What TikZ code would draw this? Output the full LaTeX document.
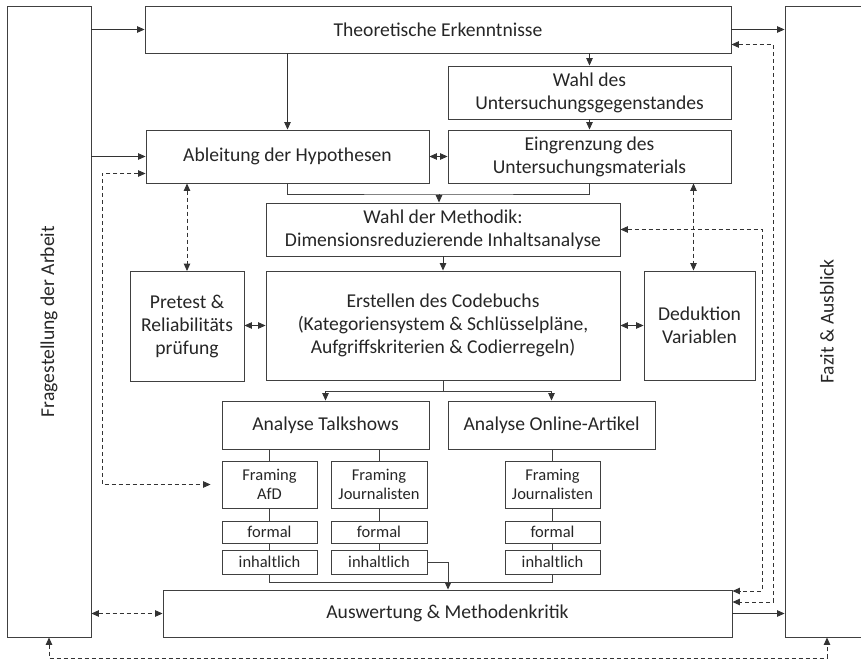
\documentclass[tikz,border=0pt]{standalone}
\usepackage{fontspec}
\setmainfont{Carlito}
\usetikzlibrary{arrows.meta}
\begin{document}
\begin{tikzpicture}[x=1pt,y=-1pt,
    font=\fontsize{19.6}{23}\selectfont,
    >={Triangle[length=7.5pt,width=6.5pt]},
    box/.style={draw=black!75,line width=0.9pt,text=black!85,align=center,
      inner sep=0pt,minimum width=#1},
    box/.default=100pt,
    smallbox/.style={box=#1,font=\fontsize{16.5}{19.5}\selectfont},
    smallbox/.default=95pt,
    arr/.style={draw=black!80,line width=0.9pt,->},
    darr/.style={draw=black!80,line width=0.9pt,dash pattern=on 4pt off 3pt,<->},
    line/.style={draw=black!75,line width=0.9pt}]
  \clip (0,0) rectangle (861,660);
  % outer boxes
  \node[box=84pt,minimum height=631pt] (frage) at (49,321.5)
    {\rotatebox{90}{Fragestellung der Arbeit}};
  \node[box=84pt,minimum height=631pt] (fazit) at (827,321.5)
    {\rotatebox{90}{Fazit \& Ausblick}};
  % upper part
  \node[box=586pt,minimum height=47pt] (theo) at (438,29.5) {Theoretische Erkenntnisse};
  \node[box=283pt,minimum height=53pt] (wahlug) at (589.5,92.5)
    {Wahl des\\Untersuchungsgegenstandes};
  \node[box=283pt,minimum height=53pt] (eingr) at (589.5,156.5)
    {Eingrenzung des\\Untersuchungsmaterials};
  \node[box=283pt,minimum height=53pt] (ableit) at (287.5,156.5) {Ableitung der Hypothesen};
  \node[box=354pt,minimum height=53pt] (methodik) at (443,229.5)
    {Wahl der Methodik:\\Dimensionsreduzierende Inhaltsanalyse};
  \node[box=354pt,minimum height=109pt] (codebuch) at (443,325.5)
    {Erstellen des Codebuchs\\(Kategoriensystem \& Schlüsselpläne,\\Aufgriffskriterien \& Codierregeln)};
  \node[box=114pt,minimum height=110pt] (pretest) at (187,326.5)
    {Pretest \&\\Reliabilitäts\\prüfung};
  \node[box=111pt,minimum height=109pt] (deduktion) at (699.5,325.5)
    {Deduktion\\Variablen};
  % analysis part
  \node[box=207pt,minimum height=48pt] (talk) at (325.5,425) {Analyse Talkshows};
  \node[box=207pt,minimum height=48pt] (online) at (551.5,425) {Analyse Online-Artikel};
  \node[smallbox=95pt,minimum height=47pt] (fafd) at (269.5,484.5) {Framing\\AfD};
  \node[smallbox=96pt,minimum height=47pt] (fjt) at (379,484.5) {Framing\\Journalisten};
  \node[smallbox=95pt,minimum height=47pt] (fjo) at (552.5,484.5) {Framing\\Journalisten};
  \node[smallbox=95pt,minimum height=22pt] (form1) at (269.5,532) {formal};
  \node[smallbox=96pt,minimum height=22pt] (form2) at (379,532) {formal};
  \node[smallbox=95pt,minimum height=22pt] (form3) at (552.5,532) {formal};
  \node[smallbox=95pt,minimum height=24pt] (inh1) at (269.5,562) {inhaltlich};
  \node[smallbox=96pt,minimum height=24pt] (inh2) at (379,562) {inhaltlich};
  \node[smallbox=95pt,minimum height=24pt] (inh3) at (552.5,562) {inhaltlich};
  \node[box=569pt,minimum height=47pt] (ausw) at (447.5,613.5) {Auswertung \& Methodenkritik};
  % helper points
  \coordinate (jm) at (439,194);
  \coordinate (jc) at (443,391);
  \coordinate (ja) at (448,582);
  \coordinate (dl) at (102,484.5);
  \coordinate (dr1) at (762,591);
  \coordinate (dr2) at (773,602);
  \coordinate (db) at (827,658);
  % solid connectors
  \begin{scope}[arr]
    \draw (frage.east |- theo.west) -- (theo.west);
    \draw (frage.east |- ableit.west) -- (ableit.west);
    \draw (theo.east) -- (theo.east -| fazit.west);
    \draw (ableit.north |- theo.south) -- (ableit.north);
    \draw (wahlug.north |- theo.south) -- (wahlug.north);
    \draw (wahlug.south) -- (eingr.north);
    \draw (jm) -- (jm |- methodik.north);
    \draw (codebuch.south |- methodik.south) -- (codebuch.north);
    \draw (talk.north |- jc) -- (talk.north);
    \draw (online.north |- jc) -- (online.north);
    \draw (ja) -- (ja |- ausw.north);
    \draw (ausw.east) -- (ausw.east -| fazit.west);
    \draw[<->] (ableit.east) -- (eingr.west);
    \draw[<->] (pretest.east |- codebuch.west) -- (codebuch.west);
    \draw[<->] (codebuch.east) -- (deduktion.west);
  \end{scope}
  \begin{scope}[line]
    \draw (ableit.south) |- (jm) -| (eingr.south);
    \draw (codebuch.south) -- (jc);
    \draw (talk.north |- jc) -- (online.north |- jc);
    \draw (fafd.north |- talk.south) -- (fafd.north);
    \draw (fjt.north |- talk.south) -- (fjt.north);
    \draw (online.south -| fjo.north) -- (fjo.north);
    \draw (fafd) -- (form1) -- (inh1);
    \draw (fjt) -- (form2) -- (inh2);
    \draw (fjo) -- (form3) -- (inh3);
    \draw (inh1.south) |- (ja);
    \draw (inh3.south) |- (ja);
    \draw (inh2.east) -| (ja);
  \end{scope}
  % dashed connectors
  \begin{scope}[darr]
    \draw (pretest.north |- ableit.south) -- (pretest.north);
    \draw ([xshift=-6pt]deduktion.north |- eingr.south) -- ([xshift=-6pt]deduktion.north);
    \draw[shorten >=11pt] ([yshift=-17pt]ableit.west) -| (dl) -- (fafd.west);
    \draw (methodik.east) -| (dr1) -- (dr1 -| ausw.east);
    \draw ([yshift=-15pt]theo.east) -| (dr2) -- (dr2 -| ausw.east);
    \draw (frage.east |- ausw.west) -- (ausw.west);
    \draw (frage.south) |- (db) -- (fazit.south);
  \end{scope}
\end{tikzpicture}
\end{document}
